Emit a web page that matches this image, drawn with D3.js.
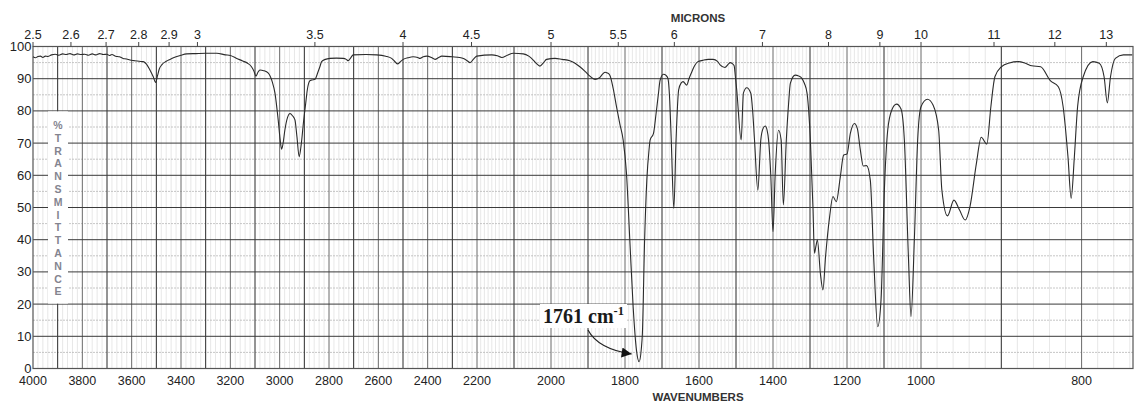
<!DOCTYPE html>
<html>
<head>
<meta charset="utf-8">
<script src="https://cdn.jsdelivr.net/npm/d3@7"></script>
<style>
  body { margin: 0; background: #fff; }
  svg { display: block; }
  text { font-family: "Liberation Sans", Arial, Helvetica, sans-serif; }
  text.serif { font-family: "Liberation Serif", "Times New Roman", serif; }
</style>
</head>
<body>
<svg id="chart" width="1134" height="404"></svg>
<script>
// spectrum: wavenumber (cm-1) and % transmittance
const wavenumbers = [4000,3990,3980,3970,3960,3950,3940,3925,3910,3895,3880,3865,3850,3835,3820,3805,3790,3775,3760,3745,3730,3715,3700,3690,3680,3665,3650,3635,3620,3607,3590,3570,3553,3540,3526,3512,3503,3495,3488,3478,3460,3445,3420,3400,3377,3340,3300,3255,3220,3200,3174,3150,3130,3115,3105,3096,3088,3080,3065,3046,3030,3019,3010,3006,2998,2992,2986,2979,2968,2958,2948,2938,2930,2921,2912,2904,2895,2888,2878,2870,2857,2845,2837,2830,2815,2796,2770,2742,2730,2722,2712,2702,2650,2607,2570,2546,2535,2523,2510,2499,2480,2459,2440,2431,2418,2404,2385,2370,2355,2343,2300,2270,2255,2240,2228,2215,2201,2160,2145,2133,2118,2102,2075,2060,2048,2040,2030,2020,2012,1989,1970,1949,1935,1922,1908,1895,1881,1870,1860,1854,1848,1841,1832,1823,1814,1805,1796,1787,1778,1769,1762,1756,1753,1747,1741,1735,1732,1723,1716,1710,1705,1696,1689,1684,1679,1675,1668,1662,1655,1648,1643,1633,1627,1621,1612,1603,1590,1575,1562,1550,1543,1530,1520,1516,1510,1505,1502,1498,1486,1480,1471,1460,1455,1450,1441,1433,1427,1421,1416,1412,1406,1400,1394,1385,1378,1372,1364,1358,1353,1340,1330,1322,1315,1308,1299,1292,1288,1284,1280,1272,1265,1258,1247,1238,1229,1218,1209,1200,1191,1180,1172,1164,1156,1147,1137,1128,1117,1108,1099,1090,1079,1066,1054,1045,1034,1027,1018,1009,1000,992,985,978,974,967,959,952,945,939,931,925,918,913,908,900,890,879,870,862,851,839,829,823,817,813,809,805,798,786,778,772,768,764,758,748,737];
const transmittance = [96.8,96.5,96.9,97.0,96.6,97.0,96.9,97.4,97.6,97.3,97.7,97.5,97.8,97.4,97.7,97.5,97.6,97.3,97.7,97.4,97.8,97.5,97.6,97.2,97.5,97.0,96.8,96.3,96.1,95.8,95.6,95.4,95.3,94.5,92.7,90.5,88.8,91,93,94.3,95.4,96,96.8,97.3,97.7,97.8,97.9,97.9,97.4,97.2,96.3,95.5,94.8,93.8,92.5,90.8,92.0,92.7,92.5,91.7,89,85.5,80,77.2,71,68.1,70,74,78,79.2,78.5,77.2,72,65.8,70,76.1,82,86.5,89.3,89.6,89.8,92,93.7,95.3,96,96.3,96.4,96.3,96,95.6,96.5,97.4,97.5,97.4,97.0,96.3,95.5,94.6,95.3,96,96.5,96.8,96.6,96.3,96.8,97,96.6,96,96.6,97,96.8,96.6,96.3,95.6,95,96,97,97.4,97.1,96.6,97.3,97.9,97.7,97,95.8,94.8,93.9,95,96,96.3,96,95.6,94.8,93.7,92.3,90.8,89.8,90.2,91.5,92,91.8,91.1,87,81.3,76,71,60.6,39.9,19.2,5.7,2.1,6,10.9,39.9,58.5,68,71,73,79.2,85,89.6,91.4,91,90.1,83,71,49.7,71,86.5,88.7,89.1,88,90,91.7,94,95.3,95.7,96,96,95.4,94.3,93.5,94.6,95,94.7,94,91,86.5,71,85.5,87.2,85.5,80,71,55.4,71,74.5,75.3,74,71,60,42.5,60.6,74,71,50.8,71,82,88.6,91.1,90.8,90.1,88.5,85.5,71,50,35.8,38,39.9,29.6,24.4,34.7,47.1,53.4,51.8,59.6,66.3,66.6,73,76.1,74.5,67.9,62.9,63,58.5,34.7,13,21.3,55.4,74,80.3,82.1,80.6,71,34.7,16.1,39.9,71,81.3,83.6,81.8,74,55.4,47.4,52.3,49.2,46.1,50.3,63.7,71.8,69.7,81.3,90.6,93.7,94.9,95.3,94.8,94,93.7,89.4,87.5,81.3,65.8,52.9,65.8,81.3,90.6,95.3,94.8,90.6,82.5,90.6,96.3,97.4,97.4];

// axis tick labels
const wavenumberTicks = [4000,3800,3600,3400,3200,3000,2800,2600,2400,2200,2000,1800,1600,1400,1200,1000,800];
const micronTicks = [2.5,2.6,2.7,2.8,2.9,3,3.5,4,4.5,5,5.5,6,7,8,9,10,11,12,13];
const transmittanceTicks = [0,10,20,30,40,50,60,70,80,90,100];
const yLabelLetters = ["%","T","R","A","N","S","M","I","T","T","A","N","C","E"];
const peakLabel = { wn: 1761, text: "1761 cm", sup: "-1" };

const svg = d3.select("#chart");
const plotLeft = 33, plotRight = 1133, plotTop = 46.5, plotBottom = 368.5;

// chart paper changes scale at 2200 and 1000 cm-1
const x = d3.scaleLinear()
  .domain([4000, 2200, 1000, 736])
  .range([plotLeft, 477, 921, plotRight]);
const y = d3.scaleLinear().domain([0, 100]).range([plotBottom, plotTop]);

const grid = svg.append("g");

// minor vertical lines
let minorX = [];
for (let w = 3980; w > 2200; w -= 20) if (w % 100) minorX.push(w);
for (let w = 2190; w > 1000; w -= 10) if (w % 100) minorX.push(w);
for (let w = 980; w > 736; w -= 20) if (w % 100) minorX.push(w);
grid.selectAll(".vminor")
  .data(minorX)
  .join("line")
    .attr("x1", d => x(d)).attr("x2", d => x(d))
    .attr("y1", plotTop).attr("y2", plotBottom)
    .attr("stroke", "#c4c4c4")
    .attr("stroke-width", 0.8)
    .attr("stroke-dasharray", "1,1");

// minor horizontal lines
grid.selectAll(".hminor")
  .data(d3.range(5, 100, 10))
  .join("line")
    .attr("x1", plotLeft).attr("x2", plotRight)
    .attr("y1", d => y(d)).attr("y2", d => y(d))
    .attr("stroke", "#b8b8b8")
    .attr("stroke-width", 0.8)
    .attr("stroke-dasharray", "2,1");

// major vertical lines every 100 cm-1
grid.selectAll(".vmajor")
  .data(d3.range(3900, 736, -100))
  .join("line")
    .attr("x1", d => x(d)).attr("x2", d => x(d))
    .attr("y1", plotTop).attr("y2", plotBottom)
    .attr("stroke", (d, i) => i % 2 ? "#6a6a6a" : "#2a2a2a")
    .attr("stroke-width", 1);

// major horizontal lines
grid.selectAll(".hmajor")
  .data(d3.range(10, 100, 10))
  .join("line")
    .attr("x1", plotLeft).attr("x2", plotRight)
    .attr("y1", d => y(d)).attr("y2", d => y(d))
    .attr("stroke", "#3a3a3a")
    .attr("stroke-width", 1);

// frame
svg.append("rect")
  .attr("x", plotLeft).attr("y", plotTop)
  .attr("width", plotRight - plotLeft).attr("height", plotBottom - plotTop)
  .attr("fill", "none").attr("stroke", "#555").attr("stroke-width", 1.2);

// y axis label box
svg.append("rect")
  .attr("x", 48).attr("y", y(80) + 0.5)
  .attr("width", 20).attr("height", y(20) - y(80) - 1)
  .attr("fill", "#fff");
svg.append("g")
  .selectAll("text")
  .data(yLabelLetters)
  .join("text")
    .attr("x", 58)
    .attr("y", (d, i) => 129 + i * 12.8)
    .attr("text-anchor", "middle")
    .attr("font-size", 10.5)
    .attr("font-weight", "bold")
    .attr("fill", "#84848f")
    .text(d => d);

// spectrum
const line = d3.line()
  .x(d => x(d[0]))
  .y(d => y(d[1]))
  .curve(d3.curveMonotoneX);
svg.append("path")
  .datum(d3.zip(wavenumbers, transmittance))
  .attr("fill", "none")
  .attr("stroke", "#2b2b2b")
  .attr("stroke-width", 1.1)
  .attr("d", line);

// y tick labels
svg.append("g")
  .selectAll("text")
  .data(transmittanceTicks)
  .join("text")
    .attr("x", 31.5)
    .attr("y", d => y(d) + 4.5)
    .attr("text-anchor", "end")
    .attr("font-size", 13)
    .attr("fill", "#222")
    .text(d => d);

// bottom wavenumber labels
svg.append("g")
  .selectAll("text")
  .data(wavenumberTicks)
  .join("text")
    .attr("x", d => x(d))
    .attr("y", 385)
    .attr("text-anchor", "middle")
    .attr("font-size", 12.5)
    .attr("fill", "#222")
    .text(d => d);

// top micron ticks and labels
const topAxis = svg.append("g");
topAxis.selectAll("line")
  .data(micronTicks)
  .join("line")
    .attr("x1", d => x(10000 / d)).attr("x2", d => x(10000 / d))
    .attr("y1", plotTop).attr("y2", plotTop - 4.5)
    .attr("stroke", "#444").attr("stroke-width", 1);
topAxis.selectAll("text")
  .data(micronTicks)
  .join("text")
    .attr("x", d => x(10000 / d))
    .attr("y", 39)
    .attr("text-anchor", "middle")
    .attr("font-size", 12.5)
    .attr("fill", "#222")
    .text(d => d);

svg.append("text")
  .attr("x", 698).attr("y", 22)
  .attr("text-anchor", "middle")
  .attr("font-size", 11.5).attr("font-weight", "bold").attr("fill", "#333")
  .text("MICRONS");
svg.append("text")
  .attr("x", 698).attr("y", 401)
  .attr("text-anchor", "middle")
  .attr("font-size", 11.5).attr("font-weight", "bold").attr("fill", "#333")
  .text("WAVENUMBERS");

// peak annotation
svg.append("defs").append("marker")
  .attr("id", "arrow")
  .attr("viewBox", "0 -5 10 10")
  .attr("refX", 10)
  .attr("markerWidth", 16)
  .attr("markerHeight", 10)
  .attr("markerUnits", "userSpaceOnUse")
  .attr("orient", "auto")
  .append("path")
    .attr("fill", "#111")
    .attr("d", "M0,-5L10,0L0,5Z");

const tipX = x(peakLabel.wn + 21), tipY = y(4.5);
svg.append("rect")
  .attr("x", 540).attr("y", 304)
  .attr("width", 87).attr("height", 24)
  .attr("fill", "#fff");
svg.append("path")
  .attr("fill", "none")
  .attr("stroke", "#222")
  .attr("stroke-width", 1.2)
  .attr("marker-end", "url(#arrow)")
  .attr("d", `M588,330 Q598,349 ${tipX},${tipY}`);
const ann = svg.append("text")
  .attr("class", "serif")
  .attr("x", 543).attr("y", 323)
  .attr("font-size", 20)
  .attr("font-weight", "bold")
  .attr("fill", "#1a1a1a")
  .text(peakLabel.text);
ann.append("tspan")
  .attr("dy", -8)
  .attr("font-size", 12.5)
  .text(peakLabel.sup);
</script>
</body>
</html>
